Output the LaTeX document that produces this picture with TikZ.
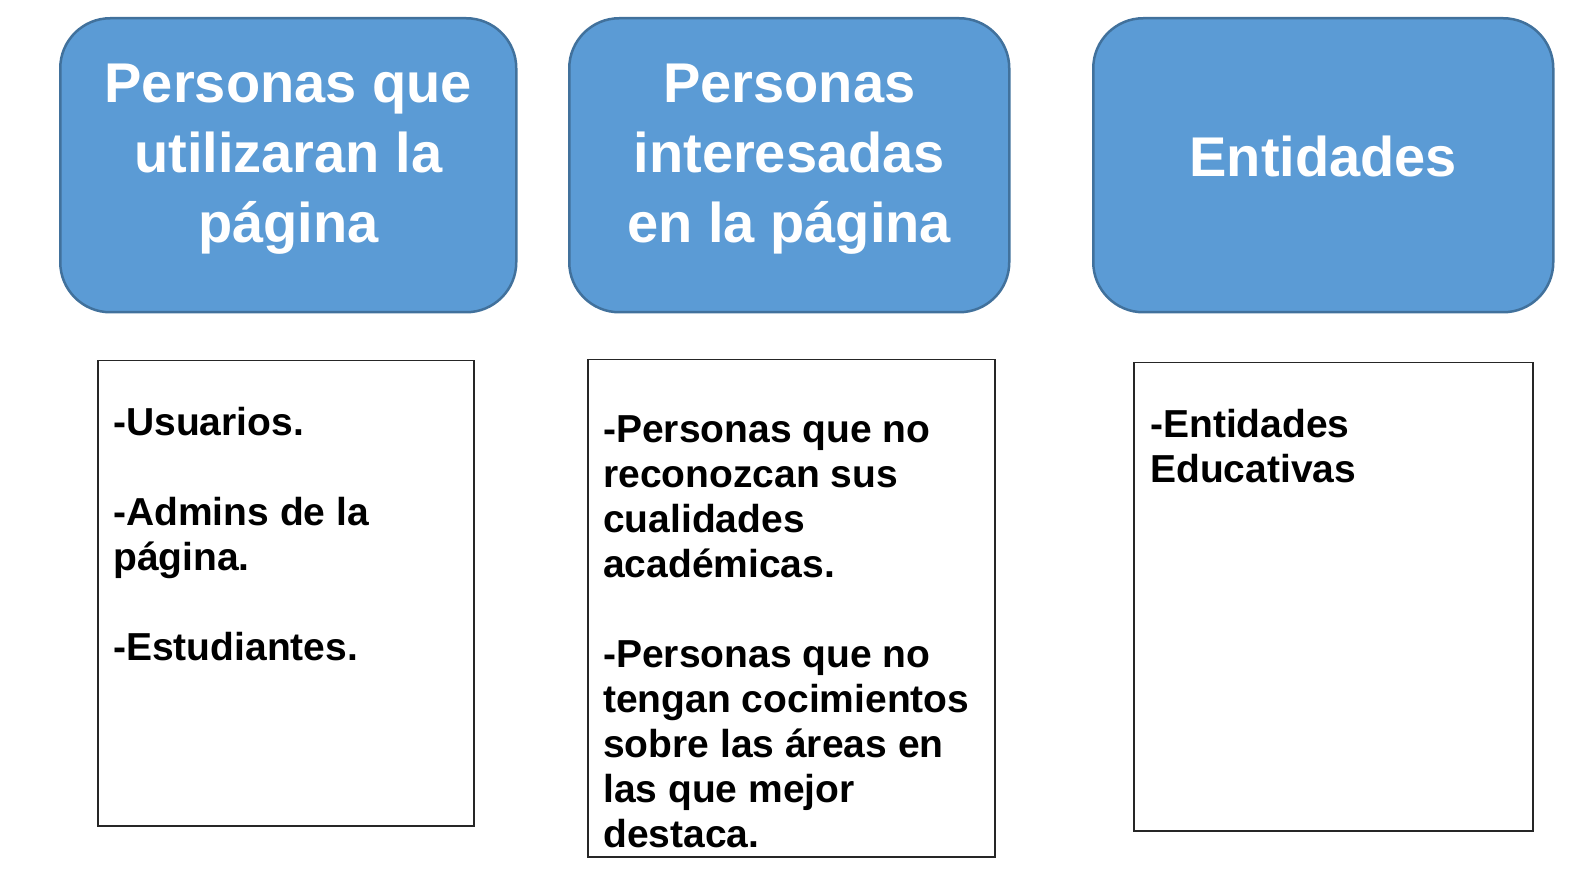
\documentclass[tikz,border=0pt]{standalone}
\usepackage{fontspec}
\setmainfont{Liberation Sans}
\usepackage{tikz}
\usetikzlibrary{positioning}
\definecolor{cardblue}{RGB}{91,155,213}
\definecolor{cardedge}{RGB}{65,113,156}
\tikzset{
  card/.style={rounded corners=50pt, draw=cardedge, line width=2.5pt, fill=cardblue, anchor=north west, inner sep=0pt},
  cardtext/.style={text=white, align=center, inner sep=0pt, font=\bfseries\fontsize{56}{70}\selectfont},
  listbox/.style={draw=black!85, line width=1.5pt, anchor=north west, inner sep=0pt},
  listtext/.style={anchor=north west, align=left, inner sep=0pt, font=\bfseries\fontsize{39}{45}\selectfont},
}

\begin{document}
\begin{tikzpicture}[x=1pt,y=-1pt]
    \useasboundingbox (0,0) rectangle (1595,890);
    % top cards
    \node[card, minimum width=456pt, minimum height=294pt] (usa) at (59,17) {};
    \node[card, minimum width=440pt, minimum height=294pt] (int) at (568,17) {};
    \node[card, minimum width=460pt, minimum height=294pt] (ent) at (1092,17) {};
    \node[cardtext] (usatxt) at ([yshift=6pt]usa.center) {Personas que\\ utilizaran la\\ página};
    \node[cardtext] (inttxt) at ([yshift=6pt]int.center) {Personas\\ interesadas\\ en la página};
    \node[cardtext] (enttxt) at ([yshift=9pt]ent.center) {Entidades};
    % lists
    \node[listbox, minimum width=376pt, minimum height=465pt] (usalist) at (97,360) {};
    \node[listbox, minimum width=407pt, minimum height=497pt] (intlist) at (587,359) {};
    \node[listbox, minimum width=399pt, minimum height=468pt] (entlist) at (1133,362) {};
    \node[listtext] (usaitems) at (113,407) {-Usuarios.\\[45pt] -Admins de la\\ página.\\[45pt] -Estudiantes.};
    \node[listtext] (intitems) at (603,415) {-Personas que no\\ reconozcan sus\\ cualidades\\ académicas.\\[45pt] -Personas que no\\ tengan cocimientos\\ sobre las áreas en\\ las que mejor\\ destaca.};
    \node[listtext] (entitems) at (1150,409) {-Entidades\\ Educativas};
\end{tikzpicture}
\end{document}
